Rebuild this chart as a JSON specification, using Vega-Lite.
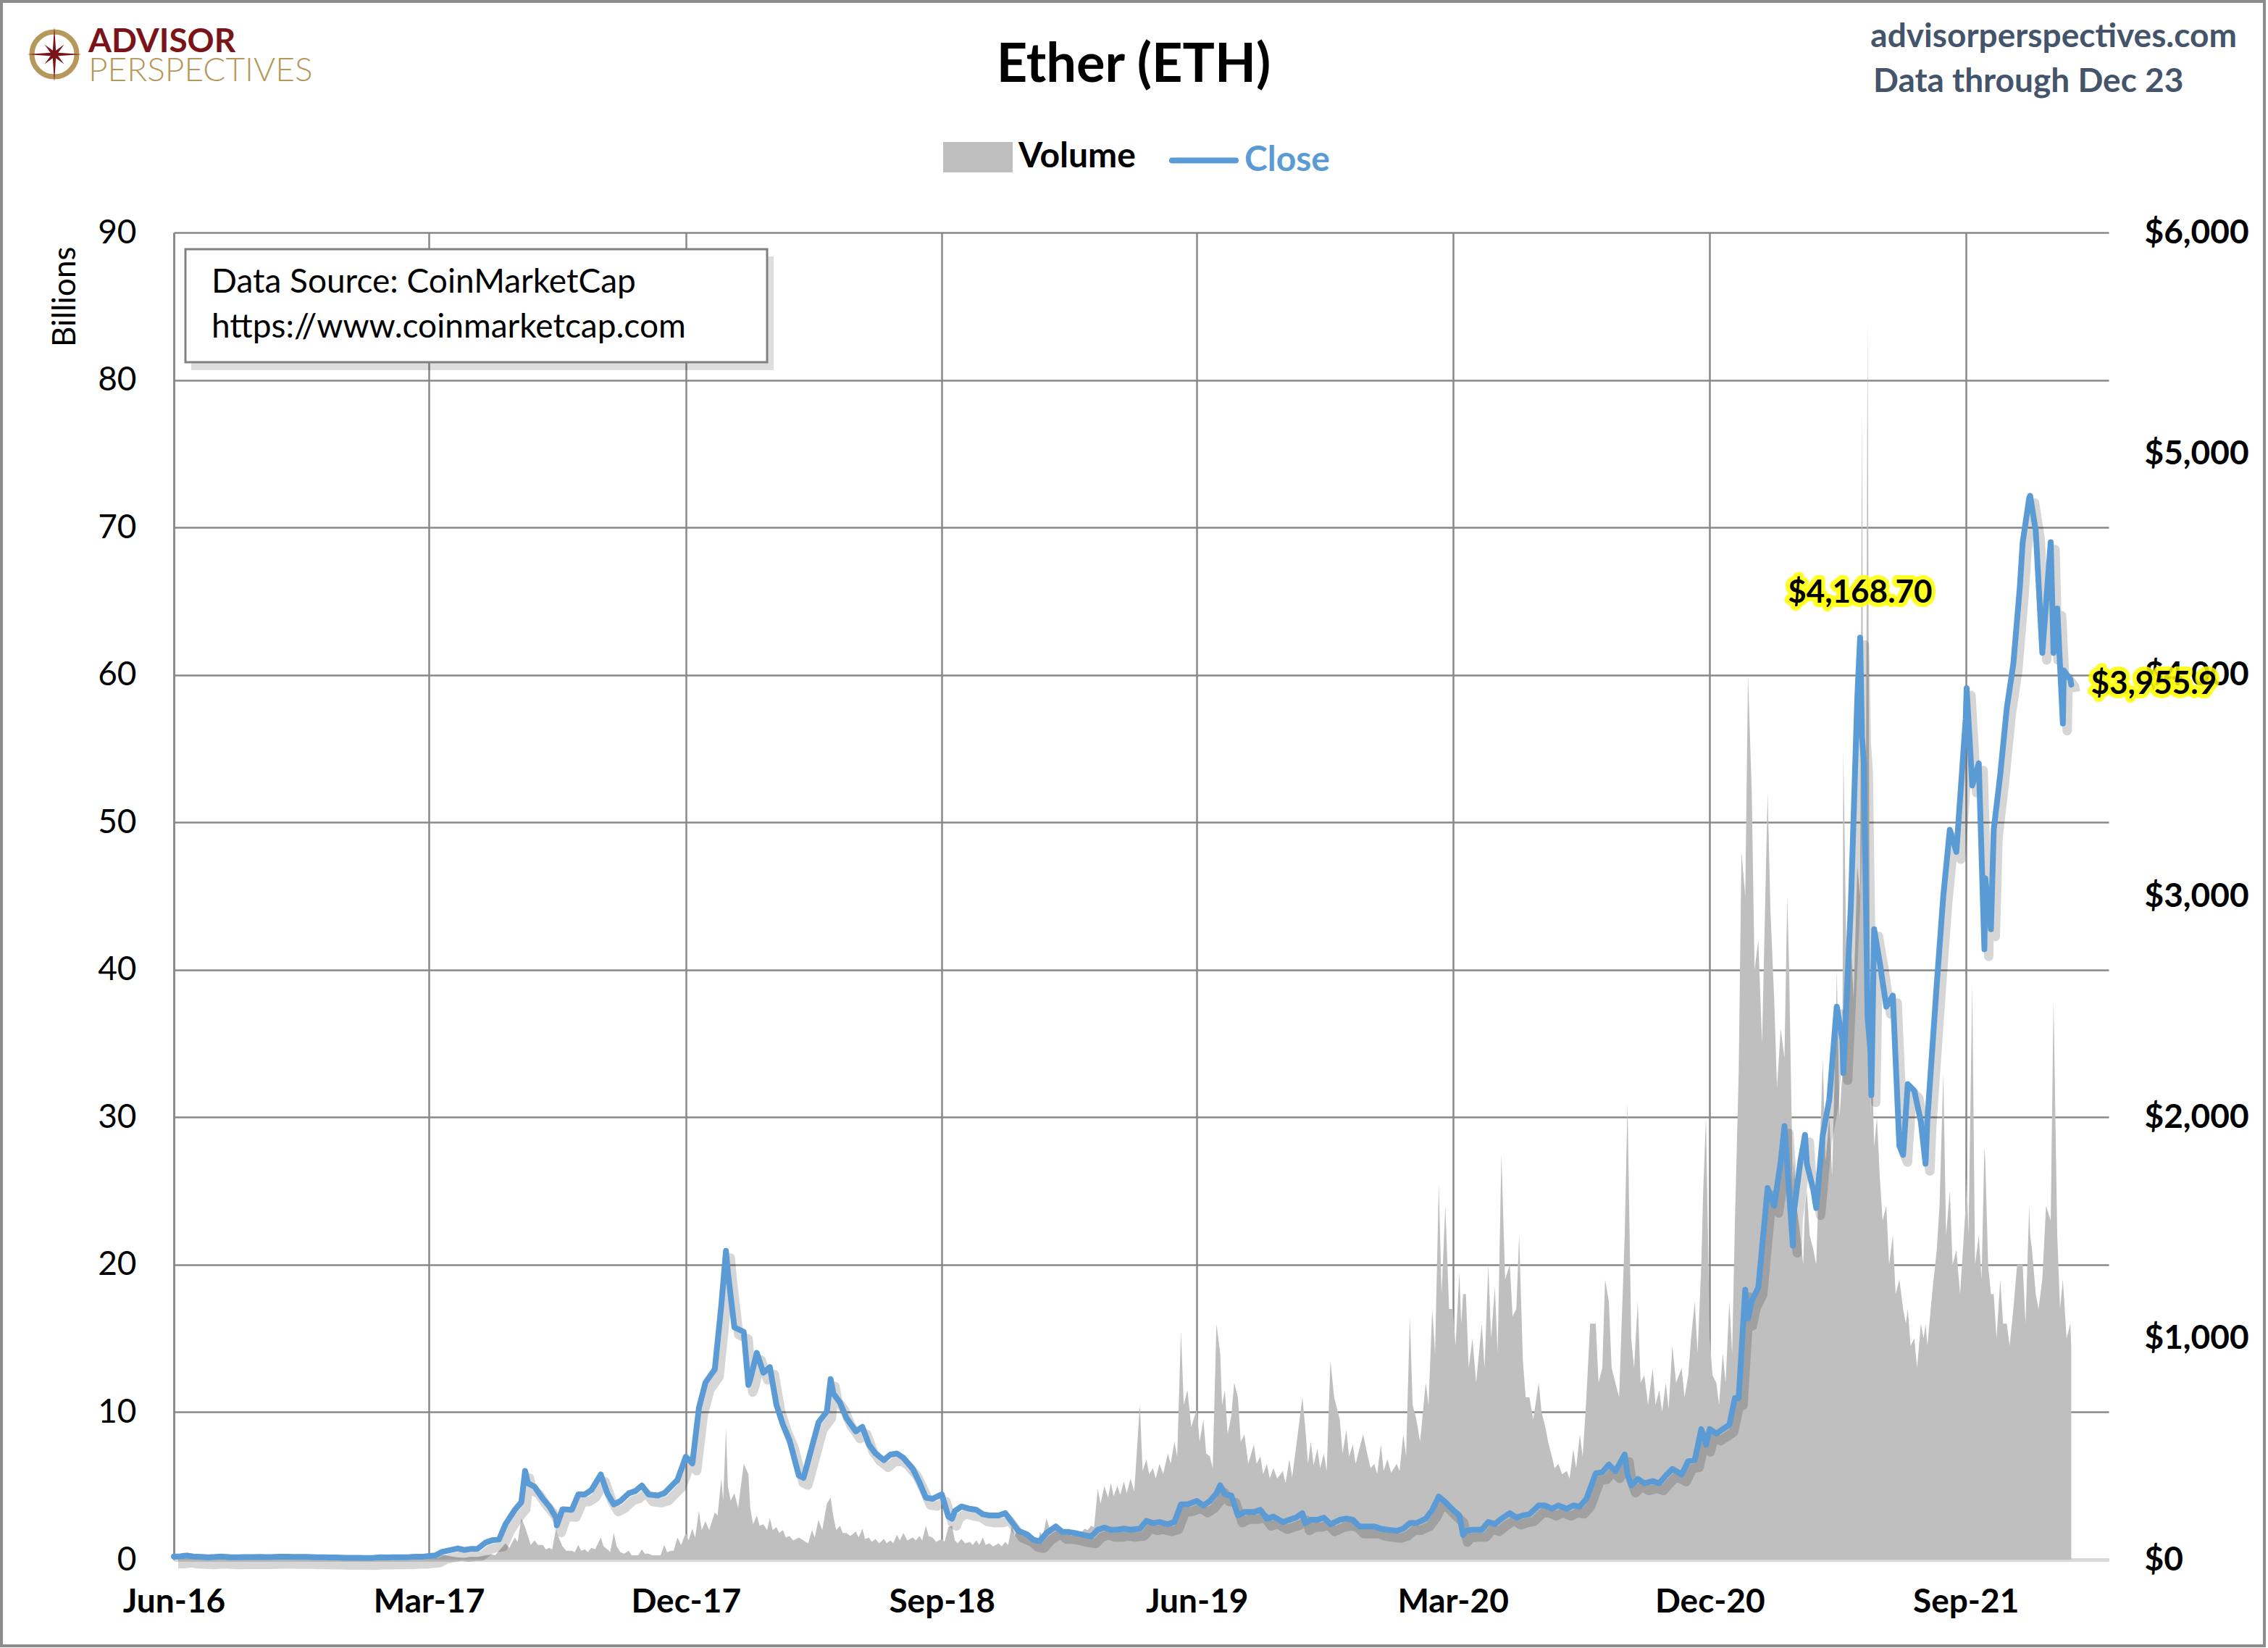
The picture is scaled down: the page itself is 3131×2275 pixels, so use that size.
{
  "$schema": "https://vega.github.io/schema/vega-lite/v6.json",
  "width": 2671,
  "height": 1832,
  "autosize": "none",
  "padding": {"left": 240, "top": 321, "right": 220, "bottom": 122},
  "background": "white",
  "config": {"font": "Lato", "view": {"stroke": null}},
  "data": {
    "values": [
      {"d": "2016-06-01", "v": 0.03, "c": 14.0}, {"d": "2016-06-08", "v": 0.02, "c": 14.5}, {"d": "2016-06-15", "v": 0.12, "c": 18.5}, {"d": "2016-06-22", "v": 0.05, "c": 13.8},
      {"d": "2016-07-01", "v": 0.03, "c": 12.4}, {"d": "2016-07-08", "v": 0.02, "c": 11.0}, {"d": "2016-07-15", "v": 0.04, "c": 12.0}, {"d": "2016-07-22", "v": 0.08, "c": 14.1},
      {"d": "2016-08-01", "v": 0.02, "c": 10.9}, {"d": "2016-08-08", "v": 0.02, "c": 11.0}, {"d": "2016-08-15", "v": 0.02, "c": 11.2}, {"d": "2016-08-22", "v": 0.02, "c": 11.1},
      {"d": "2016-09-01", "v": 0.02, "c": 12.1}, {"d": "2016-09-08", "v": 0.02, "c": 11.7}, {"d": "2016-09-15", "v": 0.02, "c": 12.0}, {"d": "2016-09-22", "v": 0.02, "c": 13.1},
      {"d": "2016-10-01", "v": 0.02, "c": 13.2}, {"d": "2016-10-08", "v": 0.02, "c": 12.0}, {"d": "2016-10-15", "v": 0.02, "c": 12.0}, {"d": "2016-10-22", "v": 0.01, "c": 11.9},
      {"d": "2016-11-01", "v": 0.01, "c": 11.0}, {"d": "2016-11-08", "v": 0.01, "c": 10.9}, {"d": "2016-11-15", "v": 0.02, "c": 10.0}, {"d": "2016-11-22", "v": 0.02, "c": 9.7},
      {"d": "2016-12-01", "v": 0.02, "c": 8.4}, {"d": "2016-12-08", "v": 0.02, "c": 8.3}, {"d": "2016-12-15", "v": 0.01, "c": 7.8}, {"d": "2016-12-22", "v": 0.01, "c": 7.2},
      {"d": "2017-01-01", "v": 0.02, "c": 8.2}, {"d": "2017-01-08", "v": 0.02, "c": 10.3}, {"d": "2017-01-15", "v": 0.02, "c": 9.9}, {"d": "2017-01-22", "v": 0.02, "c": 10.7},
      {"d": "2017-02-01", "v": 0.02, "c": 10.7}, {"d": "2017-02-08", "v": 0.02, "c": 11.4}, {"d": "2017-02-15", "v": 0.02, "c": 12.9}, {"d": "2017-02-22", "v": 0.03, "c": 12.7},
      {"d": "2017-03-01", "v": 0.05, "c": 16.5}, {"d": "2017-03-08", "v": 0.1, "c": 18.8}, {"d": "2017-03-15", "v": 0.35, "c": 34.9}, {"d": "2017-03-22", "v": 0.25, "c": 41.2},
      {"d": "2017-04-01", "v": 0.15, "c": 50.6}, {"d": "2017-04-08", "v": 0.12, "c": 43.8}, {"d": "2017-04-15", "v": 0.2, "c": 48.3}, {"d": "2017-04-22", "v": 0.18, "c": 48.8},
      {"d": "2017-05-01", "v": 0.3, "c": 78}, {"d": "2017-05-08", "v": 0.35, "c": 88}, {"d": "2017-05-15", "v": 0.6, "c": 91}, {"d": "2017-05-22", "v": 1.1, "c": 160},
      {"d": "2017-06-01", "v": 1.5, "c": 225}, {"d": "2017-06-08", "v": 2.8, "c": 260}, {"d": "2017-06-12", "v": 2.2, "c": 401}, {"d": "2017-06-15", "v": 1.6, "c": 345}, {"d": "2017-06-22", "v": 1.3, "c": 330},
      {"d": "2017-07-01", "v": 1.0, "c": 275}, {"d": "2017-07-08", "v": 0.8, "c": 240}, {"d": "2017-07-15", "v": 2.1, "c": 190}, {"d": "2017-07-16", "v": 1.8, "c": 155}, {"d": "2017-07-22", "v": 0.9, "c": 228},
      {"d": "2017-08-01", "v": 0.6, "c": 225}, {"d": "2017-08-08", "v": 1.0, "c": 295}, {"d": "2017-08-15", "v": 0.7, "c": 295}, {"d": "2017-08-22", "v": 0.8, "c": 315},
      {"d": "2017-09-01", "v": 1.5, "c": 385}, {"d": "2017-09-08", "v": 0.7, "c": 300}, {"d": "2017-09-15", "v": 1.8, "c": 250}, {"d": "2017-09-22", "v": 0.5, "c": 265},
      {"d": "2017-10-01", "v": 0.6, "c": 300}, {"d": "2017-10-08", "v": 0.3, "c": 310}, {"d": "2017-10-15", "v": 0.7, "c": 335}, {"d": "2017-10-22", "v": 0.4, "c": 295},
      {"d": "2017-11-01", "v": 0.3, "c": 290}, {"d": "2017-11-08", "v": 1.0, "c": 300}, {"d": "2017-11-15", "v": 0.6, "c": 330}, {"d": "2017-11-22", "v": 1.5, "c": 360},
      {"d": "2017-12-01", "v": 1.8, "c": 465}, {"d": "2017-12-08", "v": 2.1, "c": 435}, {"d": "2017-12-15", "v": 3.3, "c": 685}, {"d": "2017-12-22", "v": 2.6, "c": 800},
      {"d": "2018-01-01", "v": 3.2, "c": 860}, {"d": "2018-01-08", "v": 5.5, "c": 1150}, {"d": "2018-01-13", "v": 8.9, "c": 1396}, {"d": "2018-01-15", "v": 5.0, "c": 1300}, {"d": "2018-01-22", "v": 4.5, "c": 1050},
      {"d": "2018-02-01", "v": 6.5, "c": 1030}, {"d": "2018-02-06", "v": 5.8, "c": 790}, {"d": "2018-02-08", "v": 3.5, "c": 815}, {"d": "2018-02-15", "v": 3.0, "c": 935}, {"d": "2018-02-22", "v": 2.4, "c": 845},
      {"d": "2018-03-01", "v": 2.8, "c": 870}, {"d": "2018-03-08", "v": 2.2, "c": 700}, {"d": "2018-03-15", "v": 2.0, "c": 610}, {"d": "2018-03-22", "v": 1.6, "c": 540},
      {"d": "2018-04-01", "v": 1.5, "c": 380}, {"d": "2018-04-06", "v": 1.3, "c": 370}, {"d": "2018-04-08", "v": 1.2, "c": 400}, {"d": "2018-04-15", "v": 2.0, "c": 510}, {"d": "2018-04-22", "v": 2.7, "c": 620},
      {"d": "2018-05-01", "v": 3.8, "c": 670}, {"d": "2018-05-05", "v": 4.2, "c": 816}, {"d": "2018-05-08", "v": 2.9, "c": 750}, {"d": "2018-05-15", "v": 2.3, "c": 710}, {"d": "2018-05-22", "v": 1.8, "c": 640},
      {"d": "2018-06-01", "v": 1.9, "c": 580}, {"d": "2018-06-08", "v": 2.1, "c": 600}, {"d": "2018-06-15", "v": 1.5, "c": 520}, {"d": "2018-06-22", "v": 1.4, "c": 480},
      {"d": "2018-07-01", "v": 1.4, "c": 450}, {"d": "2018-07-08", "v": 1.3, "c": 475}, {"d": "2018-07-15", "v": 1.7, "c": 480}, {"d": "2018-07-22", "v": 1.8, "c": 460},
      {"d": "2018-08-01", "v": 1.5, "c": 410}, {"d": "2018-08-08", "v": 1.6, "c": 350}, {"d": "2018-08-15", "v": 2.3, "c": 280}, {"d": "2018-08-22", "v": 1.5, "c": 275},
      {"d": "2018-09-01", "v": 1.4, "c": 295}, {"d": "2018-09-08", "v": 2.2, "c": 195}, {"d": "2018-09-12", "v": 2.3, "c": 185}, {"d": "2018-09-15", "v": 1.3, "c": 220}, {"d": "2018-09-22", "v": 1.4, "c": 240},
      {"d": "2018-10-01", "v": 1.2, "c": 230}, {"d": "2018-10-08", "v": 1.3, "c": 225}, {"d": "2018-10-15", "v": 1.5, "c": 205}, {"d": "2018-10-22", "v": 1.1, "c": 200},
      {"d": "2018-11-01", "v": 1.1, "c": 200}, {"d": "2018-11-08", "v": 1.2, "c": 210}, {"d": "2018-11-15", "v": 2.3, "c": 170}, {"d": "2018-11-22", "v": 2.2, "c": 130},
      {"d": "2018-12-01", "v": 1.8, "c": 115}, {"d": "2018-12-08", "v": 1.6, "c": 90}, {"d": "2018-12-14", "v": 1.5, "c": 84}, {"d": "2018-12-15", "v": 1.9, "c": 85}, {"d": "2018-12-22", "v": 2.8, "c": 120},
      {"d": "2019-01-01", "v": 2.3, "c": 150}, {"d": "2019-01-08", "v": 2.0, "c": 125}, {"d": "2019-01-15", "v": 1.8, "c": 125}, {"d": "2019-01-22", "v": 1.9, "c": 120},
      {"d": "2019-02-01", "v": 2.1, "c": 110}, {"d": "2019-02-08", "v": 2.3, "c": 105}, {"d": "2019-02-15", "v": 4.8, "c": 135}, {"d": "2019-02-22", "v": 5.0, "c": 145},
      {"d": "2019-03-01", "v": 5.2, "c": 135}, {"d": "2019-03-08", "v": 5.0, "c": 135}, {"d": "2019-03-15", "v": 5.3, "c": 140}, {"d": "2019-03-22", "v": 5.5, "c": 135},
      {"d": "2019-04-01", "v": 10.5, "c": 140}, {"d": "2019-04-08", "v": 6.8, "c": 175}, {"d": "2019-04-15", "v": 6.2, "c": 165}, {"d": "2019-04-22", "v": 6.5, "c": 170},
      {"d": "2019-05-01", "v": 7.2, "c": 160}, {"d": "2019-05-08", "v": 8.0, "c": 170}, {"d": "2019-05-15", "v": 15.5, "c": 250}, {"d": "2019-05-22", "v": 11.5, "c": 250},
      {"d": "2019-06-01", "v": 10.2, "c": 265}, {"d": "2019-06-08", "v": 9.5, "c": 245}, {"d": "2019-06-15", "v": 7.0, "c": 265}, {"d": "2019-06-22", "v": 16.0, "c": 300}, {"d": "2019-06-26", "v": 14.0, "c": 336},
      {"d": "2019-07-01", "v": 11.5, "c": 295}, {"d": "2019-07-08", "v": 9.8, "c": 290}, {"d": "2019-07-15", "v": 11.0, "c": 200}, {"d": "2019-07-22", "v": 8.5, "c": 215},
      {"d": "2019-08-01", "v": 7.8, "c": 215}, {"d": "2019-08-08", "v": 7.0, "c": 225}, {"d": "2019-08-15", "v": 6.5, "c": 185}, {"d": "2019-08-22", "v": 6.2, "c": 195},
      {"d": "2019-09-01", "v": 6.0, "c": 170}, {"d": "2019-09-08", "v": 6.8, "c": 180}, {"d": "2019-09-15", "v": 7.5, "c": 190}, {"d": "2019-09-22", "v": 11.0, "c": 210}, {"d": "2019-09-25", "v": 9.0, "c": 165},
      {"d": "2019-10-01", "v": 8.0, "c": 180}, {"d": "2019-10-08", "v": 7.5, "c": 180}, {"d": "2019-10-15", "v": 7.2, "c": 190}, {"d": "2019-10-22", "v": 13.5, "c": 160},
      {"d": "2019-11-01", "v": 9.5, "c": 180}, {"d": "2019-11-08", "v": 8.8, "c": 185}, {"d": "2019-11-15", "v": 7.8, "c": 180}, {"d": "2019-11-22", "v": 7.5, "c": 150},
      {"d": "2019-12-01", "v": 7.0, "c": 150}, {"d": "2019-12-08", "v": 6.5, "c": 150}, {"d": "2019-12-15", "v": 7.8, "c": 140}, {"d": "2019-12-22", "v": 6.8, "c": 135},
      {"d": "2020-01-01", "v": 6.5, "c": 130}, {"d": "2020-01-08", "v": 8.5, "c": 140}, {"d": "2020-01-15", "v": 16.5, "c": 165}, {"d": "2020-01-22", "v": 9.5, "c": 165},
      {"d": "2020-02-01", "v": 12.0, "c": 185}, {"d": "2020-02-08", "v": 17.0, "c": 225}, {"d": "2020-02-15", "v": 25.5, "c": 285}, {"d": "2020-02-22", "v": 24.0, "c": 260},
      {"d": "2020-03-01", "v": 17.0, "c": 225}, {"d": "2020-03-08", "v": 19.5, "c": 200}, {"d": "2020-03-12", "v": 18.0, "c": 112}, {"d": "2020-03-15", "v": 18.0, "c": 130}, {"d": "2020-03-22", "v": 15.0, "c": 135},
      {"d": "2020-04-01", "v": 16.0, "c": 135}, {"d": "2020-04-08", "v": 20.0, "c": 170}, {"d": "2020-04-15", "v": 18.5, "c": 160}, {"d": "2020-04-22", "v": 27.5, "c": 185},
      {"d": "2020-05-01", "v": 20.0, "c": 210}, {"d": "2020-05-08", "v": 17.0, "c": 190}, {"d": "2020-05-15", "v": 13.5, "c": 200}, {"d": "2020-05-22", "v": 11.0, "c": 205},
      {"d": "2020-06-01", "v": 12.0, "c": 245}, {"d": "2020-06-08", "v": 9.0, "c": 245}, {"d": "2020-06-15", "v": 7.0, "c": 230}, {"d": "2020-06-22", "v": 6.5, "c": 245},
      {"d": "2020-07-01", "v": 6.0, "c": 230}, {"d": "2020-07-08", "v": 7.5, "c": 245}, {"d": "2020-07-15", "v": 8.5, "c": 240}, {"d": "2020-07-22", "v": 11.0, "c": 275},
      {"d": "2020-08-01", "v": 16.0, "c": 390}, {"d": "2020-08-08", "v": 13.0, "c": 395}, {"d": "2020-08-15", "v": 17.5, "c": 430}, {"d": "2020-08-22", "v": 12.0, "c": 400},
      {"d": "2020-09-01", "v": 22.0, "c": 475}, {"d": "2020-09-04", "v": 31.0, "c": 385}, {"d": "2020-09-08", "v": 15.0, "c": 335}, {"d": "2020-09-15", "v": 17.5, "c": 365}, {"d": "2020-09-22", "v": 12.5, "c": 345},
      {"d": "2020-10-01", "v": 13.0, "c": 355}, {"d": "2020-10-08", "v": 11.5, "c": 345}, {"d": "2020-10-15", "v": 12.0, "c": 380}, {"d": "2020-10-22", "v": 14.5, "c": 410},
      {"d": "2020-11-01", "v": 13.0, "c": 385}, {"d": "2020-11-08", "v": 12.5, "c": 445}, {"d": "2020-11-15", "v": 17.5, "c": 450}, {"d": "2020-11-22", "v": 20.0, "c": 590}, {"d": "2020-11-27", "v": 30.0, "c": 520},
      {"d": "2020-12-01", "v": 15.0, "c": 590}, {"d": "2020-12-08", "v": 12.0, "c": 570}, {"d": "2020-12-15", "v": 14.0, "c": 590}, {"d": "2020-12-22", "v": 17.5, "c": 610}, {"d": "2020-12-28", "v": 23.0, "c": 730},
      {"d": "2021-01-01", "v": 33, "c": 730}, {"d": "2021-01-08", "v": 45, "c": 1220}, {"d": "2021-01-11", "v": 60, "c": 1090}, {"d": "2021-01-15", "v": 52, "c": 1170}, {"d": "2021-01-22", "v": 42, "c": 1230},
      {"d": "2021-02-01", "v": 52, "c": 1680}, {"d": "2021-02-08", "v": 38, "c": 1600}, {"d": "2021-02-15", "v": 36, "c": 1800}, {"d": "2021-02-19", "v": 34, "c": 1960}, {"d": "2021-02-22", "v": 45, "c": 1780}, {"d": "2021-02-28", "v": 25, "c": 1420},
      {"d": "2021-03-01", "v": 27, "c": 1570}, {"d": "2021-03-08", "v": 22, "c": 1800}, {"d": "2021-03-13", "v": 24, "c": 1920}, {"d": "2021-03-15", "v": 25, "c": 1790}, {"d": "2021-03-22", "v": 21, "c": 1670}, {"d": "2021-03-25", "v": 20, "c": 1590},
      {"d": "2021-04-01", "v": 34, "c": 1920}, {"d": "2021-04-08", "v": 30, "c": 2080}, {"d": "2021-04-15", "v": 36, "c": 2450}, {"d": "2021-04-16", "v": 40, "c": 2500}, {"d": "2021-04-22", "v": 33, "c": 2350}, {"d": "2021-04-23", "v": 55, "c": 2200},
      {"d": "2021-05-01", "v": 42, "c": 2950}, {"d": "2021-05-08", "v": 47, "c": 3900}, {"d": "2021-05-11", "v": 45, "c": 4168.7}, {"d": "2021-05-13", "v": 78, "c": 3720}, {"d": "2021-05-15", "v": 40, "c": 3600}, {"d": "2021-05-19", "v": 84, "c": 2450}, {"d": "2021-05-22", "v": 30, "c": 2300}, {"d": "2021-05-23", "v": 36, "c": 2100}, {"d": "2021-05-26", "v": 28, "c": 2850},
      {"d": "2021-06-01", "v": 26, "c": 2700}, {"d": "2021-06-08", "v": 24, "c": 2500}, {"d": "2021-06-15", "v": 22, "c": 2550}, {"d": "2021-06-22", "v": 19, "c": 1870}, {"d": "2021-06-26", "v": 17, "c": 1830},
      {"d": "2021-07-01", "v": 17, "c": 2150}, {"d": "2021-07-08", "v": 15, "c": 2120}, {"d": "2021-07-15", "v": 16, "c": 1980}, {"d": "2021-07-20", "v": 16, "c": 1790}, {"d": "2021-07-22", "v": 14.5, "c": 1990},
      {"d": "2021-08-01", "v": 21, "c": 2600}, {"d": "2021-08-08", "v": 33, "c": 3000}, {"d": "2021-08-15", "v": 25, "c": 3300}, {"d": "2021-08-22", "v": 21, "c": 3200},
      {"d": "2021-09-01", "v": 24, "c": 3800}, {"d": "2021-09-02", "v": 26, "c": 3940}, {"d": "2021-09-08", "v": 39, "c": 3500}, {"d": "2021-09-15", "v": 22, "c": 3600}, {"d": "2021-09-21", "v": 28, "c": 2760}, {"d": "2021-09-22", "v": 27, "c": 3080}, {"d": "2021-09-28", "v": 18, "c": 2850},
      {"d": "2021-10-01", "v": 18, "c": 3300}, {"d": "2021-10-08", "v": 19, "c": 3550}, {"d": "2021-10-15", "v": 16, "c": 3850}, {"d": "2021-10-22", "v": 17, "c": 4050}, {"d": "2021-10-29", "v": 20, "c": 4400},
      {"d": "2021-11-01", "v": 20, "c": 4600}, {"d": "2021-11-08", "v": 24, "c": 4800}, {"d": "2021-11-09", "v": 22, "c": 4810}, {"d": "2021-11-15", "v": 18, "c": 4650}, {"d": "2021-11-22", "v": 19, "c": 4100},
      {"d": "2021-12-01", "v": 23, "c": 4600}, {"d": "2021-12-04", "v": 38, "c": 4100}, {"d": "2021-12-08", "v": 22, "c": 4300}, {"d": "2021-12-14", "v": 19, "c": 3780}, {"d": "2021-12-15", "v": 18, "c": 4020}, {"d": "2021-12-22", "v": 16, "c": 3980}, {"d": "2021-12-23", "v": 14.4, "c": 3955.9},

      {"d": "2017-05-11", "v": 0.3}, {"d": "2017-05-26", "v": 0.8},
      {"d": "2017-06-04", "v": 1.2}, {"d": "2017-06-18", "v": 1.0}, {"d": "2017-06-26", "v": 1.0},
      {"d": "2017-07-04", "v": 0.7}, {"d": "2017-07-11", "v": 0.7}, {"d": "2017-07-26", "v": 0.6},
      {"d": "2017-08-04", "v": 0.5}, {"d": "2017-08-11", "v": 0.6}, {"d": "2017-08-18", "v": 0.5}, {"d": "2017-08-26", "v": 0.7},
      {"d": "2017-09-04", "v": 0.9}, {"d": "2017-09-11", "v": 0.5}, {"d": "2017-09-18", "v": 0.9}, {"d": "2017-09-26", "v": 0.4},
      {"d": "2017-10-04", "v": 0.3}, {"d": "2017-10-11", "v": 0.3}, {"d": "2017-10-18", "v": 0.4}, {"d": "2017-10-26", "v": 0.3},
      {"d": "2017-11-04", "v": 0.3}, {"d": "2017-11-11", "v": 0.5}, {"d": "2017-11-18", "v": 0.6}, {"d": "2017-11-26", "v": 1.0},
      {"d": "2017-12-04", "v": 1.3}, {"d": "2017-12-11", "v": 1.5}, {"d": "2017-12-18", "v": 2.0}, {"d": "2017-12-26", "v": 2.0},
      {"d": "2018-01-04", "v": 3.0}, {"d": "2018-01-10", "v": 4.0}, {"d": "2018-01-18", "v": 4.0}, {"d": "2018-01-26", "v": 3.5},
      {"d": "2018-02-11", "v": 2.4}, {"d": "2018-02-18", "v": 2.3}, {"d": "2018-02-26", "v": 2.0},
      {"d": "2018-03-04", "v": 2.0}, {"d": "2018-03-11", "v": 1.8}, {"d": "2018-03-18", "v": 1.5}, {"d": "2018-03-26", "v": 1.3},
      {"d": "2018-04-11", "v": 1.1}, {"d": "2018-04-18", "v": 1.5}, {"d": "2018-04-26", "v": 2.0},
      {"d": "2018-05-11", "v": 2.0}, {"d": "2018-05-18", "v": 1.8}, {"d": "2018-05-26", "v": 1.6},
      {"d": "2018-06-04", "v": 1.5}, {"d": "2018-06-11", "v": 1.4}, {"d": "2018-06-18", "v": 1.2}, {"d": "2018-06-26", "v": 1.1},
      {"d": "2018-07-04", "v": 1.1}, {"d": "2018-07-11", "v": 1.1}, {"d": "2018-07-18", "v": 1.3}, {"d": "2018-07-26", "v": 1.3},
      {"d": "2018-08-04", "v": 1.3}, {"d": "2018-08-11", "v": 1.3}, {"d": "2018-08-18", "v": 1.6}, {"d": "2018-08-26", "v": 1.2},
      {"d": "2018-09-04", "v": 1.2}, {"d": "2018-09-18", "v": 1.1}, {"d": "2018-09-26", "v": 1.1},
      {"d": "2018-10-04", "v": 1.0}, {"d": "2018-10-11", "v": 1.0}, {"d": "2018-10-18", "v": 1.0}, {"d": "2018-10-26", "v": 0.9},
      {"d": "2018-11-04", "v": 0.9}, {"d": "2018-11-11", "v": 1.0}, {"d": "2018-11-18", "v": 1.6}, {"d": "2018-11-26", "v": 1.6},
      {"d": "2018-12-04", "v": 1.5}, {"d": "2018-12-11", "v": 1.4}, {"d": "2018-12-18", "v": 1.5}, {"d": "2018-12-26", "v": 2.0},
      {"d": "2019-01-04", "v": 1.8}, {"d": "2019-01-11", "v": 1.7}, {"d": "2019-01-18", "v": 1.6}, {"d": "2019-01-26", "v": 1.7},
      {"d": "2019-02-04", "v": 2.0}, {"d": "2019-02-11", "v": 2.2}, {"d": "2019-02-18", "v": 3.8}, {"d": "2019-02-26", "v": 4.2},
      {"d": "2019-03-04", "v": 4.3}, {"d": "2019-03-11", "v": 4.4}, {"d": "2019-03-18", "v": 4.5}, {"d": "2019-03-26", "v": 4.6},
      {"d": "2019-04-04", "v": 6.0}, {"d": "2019-04-11", "v": 5.8}, {"d": "2019-04-18", "v": 5.5}, {"d": "2019-04-26", "v": 5.8},
      {"d": "2019-05-04", "v": 6.5}, {"d": "2019-05-11", "v": 7.0}, {"d": "2019-05-18", "v": 10.5}, {"d": "2019-05-26", "v": 9.0},
      {"d": "2019-06-04", "v": 8.0}, {"d": "2019-06-11", "v": 7.2}, {"d": "2019-06-18", "v": 6.2}, {"d": "2019-06-28", "v": 10.5},
      {"d": "2019-07-04", "v": 8.5}, {"d": "2019-07-11", "v": 12.0}, {"d": "2019-07-18", "v": 8.0}, {"d": "2019-07-26", "v": 6.5},
      {"d": "2019-08-04", "v": 6.5}, {"d": "2019-08-11", "v": 5.8}, {"d": "2019-08-18", "v": 5.5}, {"d": "2019-08-26", "v": 5.5},
      {"d": "2019-09-04", "v": 5.2}, {"d": "2019-09-11", "v": 5.6}, {"d": "2019-09-18", "v": 9.0}, {"d": "2019-09-28", "v": 6.5},
      {"d": "2019-10-04", "v": 6.4}, {"d": "2019-10-11", "v": 6.2}, {"d": "2019-10-18", "v": 6.0}, {"d": "2019-10-26", "v": 11.0},
      {"d": "2019-11-04", "v": 7.2}, {"d": "2019-11-11", "v": 7.0}, {"d": "2019-11-18", "v": 6.5}, {"d": "2019-11-26", "v": 8.5},
      {"d": "2019-12-04", "v": 6.2}, {"d": "2019-12-11", "v": 5.8}, {"d": "2019-12-18", "v": 6.0}, {"d": "2019-12-26", "v": 5.9},
      {"d": "2020-01-04", "v": 6.0}, {"d": "2020-01-11", "v": 7.0}, {"d": "2020-01-18", "v": 10.5}, {"d": "2020-01-26", "v": 8.0},
      {"d": "2020-02-04", "v": 10.5}, {"d": "2020-02-11", "v": 14.0}, {"d": "2020-02-18", "v": 18.0}, {"d": "2020-02-26", "v": 17.0},
      {"d": "2020-03-04", "v": 14.5}, {"d": "2020-03-10", "v": 16.0}, {"d": "2020-03-18", "v": 13.0}, {"d": "2020-03-26", "v": 12.0},
      {"d": "2020-04-04", "v": 13.0}, {"d": "2020-04-11", "v": 15.0}, {"d": "2020-04-18", "v": 14.0}, {"d": "2020-04-26", "v": 19.0},
      {"d": "2020-05-04", "v": 16.5}, {"d": "2020-05-11", "v": 22.0}, {"d": "2020-05-18", "v": 11.0}, {"d": "2020-05-26", "v": 9.5},
      {"d": "2020-06-04", "v": 10.0}, {"d": "2020-06-11", "v": 8.0}, {"d": "2020-06-18", "v": 6.2}, {"d": "2020-06-26", "v": 5.8},
      {"d": "2020-07-04", "v": 5.5}, {"d": "2020-07-11", "v": 6.2}, {"d": "2020-07-18", "v": 7.0}, {"d": "2020-07-26", "v": 16.0},
      {"d": "2020-08-04", "v": 12.0}, {"d": "2020-08-11", "v": 19.0}, {"d": "2020-08-18", "v": 13.0}, {"d": "2020-08-26", "v": 11.0},
      {"d": "2020-09-11", "v": 13.0}, {"d": "2020-09-18", "v": 12.0}, {"d": "2020-09-26", "v": 10.5},
      {"d": "2020-10-04", "v": 10.5}, {"d": "2020-10-11", "v": 10.0}, {"d": "2020-10-18", "v": 10.2}, {"d": "2020-10-26", "v": 12.0},
      {"d": "2020-11-04", "v": 11.0}, {"d": "2020-11-11", "v": 15.0}, {"d": "2020-11-18", "v": 14.0}, {"d": "2020-11-24", "v": 25.0},
      {"d": "2020-12-04", "v": 12.5}, {"d": "2020-12-11", "v": 10.5}, {"d": "2020-12-18", "v": 12.0}, {"d": "2020-12-25", "v": 14.0},
      {"d": "2021-01-04", "v": 48}, {"d": "2021-01-18", "v": 40}, {"d": "2021-01-26", "v": 35},
      {"d": "2021-02-04", "v": 44}, {"d": "2021-02-11", "v": 32}, {"d": "2021-02-24", "v": 40},
      {"d": "2021-03-04", "v": 24}, {"d": "2021-03-11", "v": 20}, {"d": "2021-03-18", "v": 22}, {"d": "2021-03-29", "v": 28},
      {"d": "2021-04-04", "v": 27}, {"d": "2021-04-11", "v": 26}, {"d": "2021-04-19", "v": 30}, {"d": "2021-04-27", "v": 38},
      {"d": "2021-05-04", "v": 38}, {"d": "2021-05-17", "v": 48}, {"d": "2021-05-21", "v": 45}, {"d": "2021-05-29", "v": 30},
      {"d": "2021-06-04", "v": 23}, {"d": "2021-06-11", "v": 20}, {"d": "2021-06-18", "v": 18}, {"d": "2021-06-29", "v": 16},
      {"d": "2021-07-04", "v": 14.5}, {"d": "2021-07-11", "v": 13}, {"d": "2021-07-18", "v": 15}, {"d": "2021-07-27", "v": 18},
      {"d": "2021-08-04", "v": 24}, {"d": "2021-08-11", "v": 22}, {"d": "2021-08-18", "v": 20}, {"d": "2021-08-26", "v": 18},
      {"d": "2021-09-04", "v": 22}, {"d": "2021-09-11", "v": 20}, {"d": "2021-09-18", "v": 19}, {"d": "2021-09-25", "v": 20},
      {"d": "2021-10-04", "v": 15}, {"d": "2021-10-11", "v": 16}, {"d": "2021-10-18", "v": 14.5}, {"d": "2021-10-26", "v": 20},
      {"d": "2021-11-04", "v": 16}, {"d": "2021-11-11", "v": 21}, {"d": "2021-11-18", "v": 17}, {"d": "2021-11-26", "v": 24},
      {"d": "2021-12-11", "v": 17}, {"d": "2021-12-18", "v": 15}
    ]
  },
  "encoding": {
    "x": {
      "field": "d",
      "type": "temporal",
      "scale": {
        "type": "utc",
        "domain": [{"year": 2016, "month": 6, "date": 1, "utc": true}, {"year": 2022, "month": 2, "date": 1, "utc": true}]
      },
      "axis": {
        "title": null,
        "values": [
          {"year": 2016, "month": 6, "date": 1, "utc": true},
          {"year": 2017, "month": 3, "date": 1, "utc": true},
          {"year": 2017, "month": 12, "date": 1, "utc": true},
          {"year": 2018, "month": 9, "date": 1, "utc": true},
          {"year": 2019, "month": 6, "date": 1, "utc": true},
          {"year": 2020, "month": 3, "date": 1, "utc": true},
          {"year": 2020, "month": 12, "date": 1, "utc": true},
          {"year": 2021, "month": 9, "date": 1, "utc": true}
        ],
        "format": "%b-%y",
        "labelFontSize": 46,
        "labelFontWeight": "bold",
        "labelColor": "#000000",
        "labelPadding": 36,
        "labelFlush": false,
        "labelOverlap": false,
        "ticks": false,
        "grid": true,
        "gridColor": "#888888",
        "gridWidth": 2.5,
        "domainColor": "#d9d9d9",
        "domainWidth": 5
      }
    }
  },
  "layer": [
    {
      "mark": {"type": "area", "color": "#bfbfbf", "invalid": "filter"},
      "encoding": {
        "y": {
          "field": "v",
          "type": "quantitative",
          "scale": {"domain": [0, 90], "nice": false},
          "axis": {
            "orient": "left",
            "values": [0, 10, 20, 30, 40, 50, 60, 70, 80, 90],
            "title": "Billions",
            "titleFontSize": 44,
            "titleFontWeight": "normal",
            "titleColor": "#000000",
            "titleAngle": -90,
            "titleAlign": "right",
            "titleBaseline": "middle",
            "titleX": -150,
            "titleY": 19,
            "labelFontSize": 46,
            "labelColor": "#000000",
            "labelPadding": 52,
            "labelFlush": false,
            "ticks": false,
            "grid": true,
            "gridColor": "#888888",
            "gridWidth": 2.5,
            "domainColor": "#888888",
            "domainWidth": 2.5
          }
        },
        "color": {
          "datum": "Volume",
          "type": "nominal",
          "scale": {"domain": ["Volume", "Close"], "range": ["#bfbfbf", "#5b9bd5"]},
          "legend": {
            "orient": "none",
            "legendX": 1062,
            "legendY": -152,
            "direction": "horizontal",
            "title": null,
            "padding": 0,
            "labelFontSize": 48,
            "labelFontWeight": "bold",
            "labelColor": "#000000",
            "labelLimit": 400,
            "symbolSize": 7744,
            "columnPadding": 34,
            "labelOffset": 8,
            "encode": {
              "symbols": {
                "update": {
                  "shape": {"signal": "datum.value === 'Volume' ? 'M-1,-0.386H1V0.386H-1Z' : 'M-1,0H1'"},
                  "fill": {"signal": "datum.value === 'Volume' ? '#bfbfbf' : 'transparent'"},
                  "stroke": {"signal": "datum.value === 'Volume' ? 'transparent' : '#5b9bd5'"},
                  "strokeWidth": {"value": 8},
                  "strokeCap": {"value": "round"},
                  "opacity": {"value": 1}
                }
              },
              "labels": {
                "update": {
                  "fill": {"signal": "datum.value === 'Close' ? '#5b9bd5' : '#000000'"}
                }
              }
            }
          }
        }
      }
    },
    {
      "encoding": {
        "y": {
          "field": "c",
          "type": "quantitative",
          "scale": {"domain": [0, 6000], "nice": false},
          "axis": {
            "orient": "right",
            "values": [0, 1000, 2000, 3000, 4000, 5000, 6000],
            "format": "$,.0f",
            "title": null,
            "labelFontSize": 46,
            "labelFontWeight": "bold",
            "labelColor": "#000000",
            "labelPadding": 49,
            "labelFlush": false,
            "ticks": false,
            "domain": false,
            "grid": false,
            "zindex": 0
          }
        }
      },
      "layer": [
        {
          "mark": {"type": "line", "color": "#000000", "opacity": 0.16, "strokeWidth": 13, "strokeJoin": "round", "xOffset": 6, "yOffset": 10, "invalid": "filter"}
        },
        {
          "mark": {"type": "line", "strokeWidth": 8, "strokeJoin": "round", "strokeCap": "round", "invalid": "filter"},
          "encoding": {"color": {"datum": "Close", "type": "nominal"}}
        },
        {
          "transform": [{"filter": "datum.c == 4168.7"}],
          "mark": {"type": "text", "align": "center", "baseline": "middle", "dy": -61, "fontSize": 44, "fontWeight": "bold", "fill": "#ffff00", "stroke": "#ffff00", "strokeWidth": 12, "strokeJoin": "round", "strokeOpacity": 0.85},
          "encoding": {"text": {"field": "c", "type": "quantitative", "format": "$,.2f"}}
        },
        {
          "transform": [{"filter": "datum.c == 4168.7"}],
          "mark": {"type": "text", "align": "center", "baseline": "middle", "dy": -61, "fontSize": 44, "fontWeight": "bold", "color": "#000000"},
          "encoding": {"text": {"field": "c", "type": "quantitative", "format": "$,.2f"}}
        },
        {
          "transform": [{"filter": "datum.c == 3955.9"}],
          "mark": {"type": "text", "align": "left", "baseline": "middle", "dx": 27, "fontSize": 44, "fontWeight": "bold", "fill": "#ffff00", "stroke": "#ffff00", "strokeWidth": 12, "strokeJoin": "round", "strokeOpacity": 0.85},
          "encoding": {"text": {"field": "c", "type": "quantitative", "format": "$,.1f"}}
        },
        {
          "transform": [{"filter": "datum.c == 3955.9"}],
          "mark": {"type": "text", "align": "left", "baseline": "middle", "dx": 27, "fontSize": 44, "fontWeight": "bold", "color": "#000000"},
          "encoding": {"text": {"field": "c", "type": "quantitative", "format": "$,.1f"}}
        }
      ]
    },
    {
      "data": {"values": [{}]},
      "mark": {"type": "rect", "fill": "#000000", "opacity": 0.13},
      "encoding": {"x": {"value": 24}, "x2": {"value": 828}, "y": {"value": 33}, "y2": {"value": 190}}
    },
    {
      "data": {"values": [{}]},
      "mark": {"type": "rect", "fill": "#ffffff", "stroke": "#808080", "strokeWidth": 3},
      "encoding": {"x": {"value": 16}, "x2": {"value": 819}, "y": {"value": 23}, "y2": {"value": 179}}
    },
    {
      "data": {"values": [{}]},
      "mark": {"type": "text", "text": "Data Source: CoinMarketCap", "align": "left", "baseline": "middle", "fontSize": 46, "color": "#000000"},
      "encoding": {"x": {"value": 52}, "y": {"value": 69}}
    },
    {
      "data": {"values": [{}]},
      "mark": {"type": "text", "text": "https://www.coinmarketcap.com", "align": "left", "baseline": "middle", "fontSize": 46, "color": "#000000"},
      "encoding": {"x": {"value": 52}, "y": {"value": 131}}
    },
    {
      "data": {"values": [{}]},
      "mark": {"type": "rect", "filled": false, "stroke": "#8c8c8c", "strokeWidth": 4},
      "encoding": {"x": {"value": -238}, "x2": {"value": 2886}, "y": {"value": -319}, "y2": {"value": 1951}}
    },
    {
      "data": {"values": [{}]},
      "mark": {"type": "text", "text": "Ether (ETH)", "align": "center", "baseline": "alphabetic", "fontSize": 74, "fontWeight": "bold", "color": "#000000"},
      "encoding": {"x": {"value": 1325}, "y": {"value": -208}}
    },
    {
      "data": {"values": [{}]},
      "mark": {"type": "text", "text": "advisorperspectives.com", "align": "right", "baseline": "alphabetic", "fontSize": 46, "fontWeight": "bold", "color": "#44546a"},
      "encoding": {"x": {"value": 2848}, "y": {"value": -256}}
    },
    {
      "data": {"values": [{}]},
      "mark": {"type": "text", "text": "Data through Dec 23", "align": "left", "baseline": "alphabetic", "fontSize": 46, "fontWeight": "bold", "color": "#44546a"},
      "encoding": {"x": {"value": 2346}, "y": {"value": -194}}
    },
    {
      "data": {"values": [{}]},
      "mark": {"type": "point", "shape": "circle", "filled": false, "stroke": "#b5985a", "strokeWidth": 7, "size": 3844, "opacity": 1},
      "encoding": {"x": {"value": -165}, "y": {"value": -246}}
    },
    {
      "data": {"values": [{}]},
      "mark": {
        "type": "point",
        "shape": "M0,-1L0.057,-0.139L0.354,-0.354L0.139,-0.057L1,0L0.139,0.057L0.354,0.354L0.057,0.139L0,1L-0.057,0.139L-0.354,0.354L-0.139,0.057L-1,0L-0.139,-0.057L-0.354,-0.354L-0.057,-0.139Z",
        "filled": true,
        "fill": "#7a1418",
        "size": 5776,
        "opacity": 1
      },
      "encoding": {"x": {"value": -165}, "y": {"value": -246}}
    },
    {
      "data": {"values": [{}]},
      "mark": {"type": "text", "text": "ADVISOR", "align": "left", "baseline": "alphabetic", "fontSize": 46, "fontWeight": "bold", "color": "#7a1418"},
      "encoding": {"x": {"value": -118}, "y": {"value": -249}}
    },
    {
      "data": {"values": [{}]},
      "mark": {"type": "text", "text": "PERSPECTIVES", "align": "left", "baseline": "alphabetic", "fontSize": 46, "fontWeight": 300, "color": "#b5985a"},
      "encoding": {"x": {"value": -118}, "y": {"value": -209}}
    }
  ],
  "resolve": {"scale": {"y": "independent"}}
}
